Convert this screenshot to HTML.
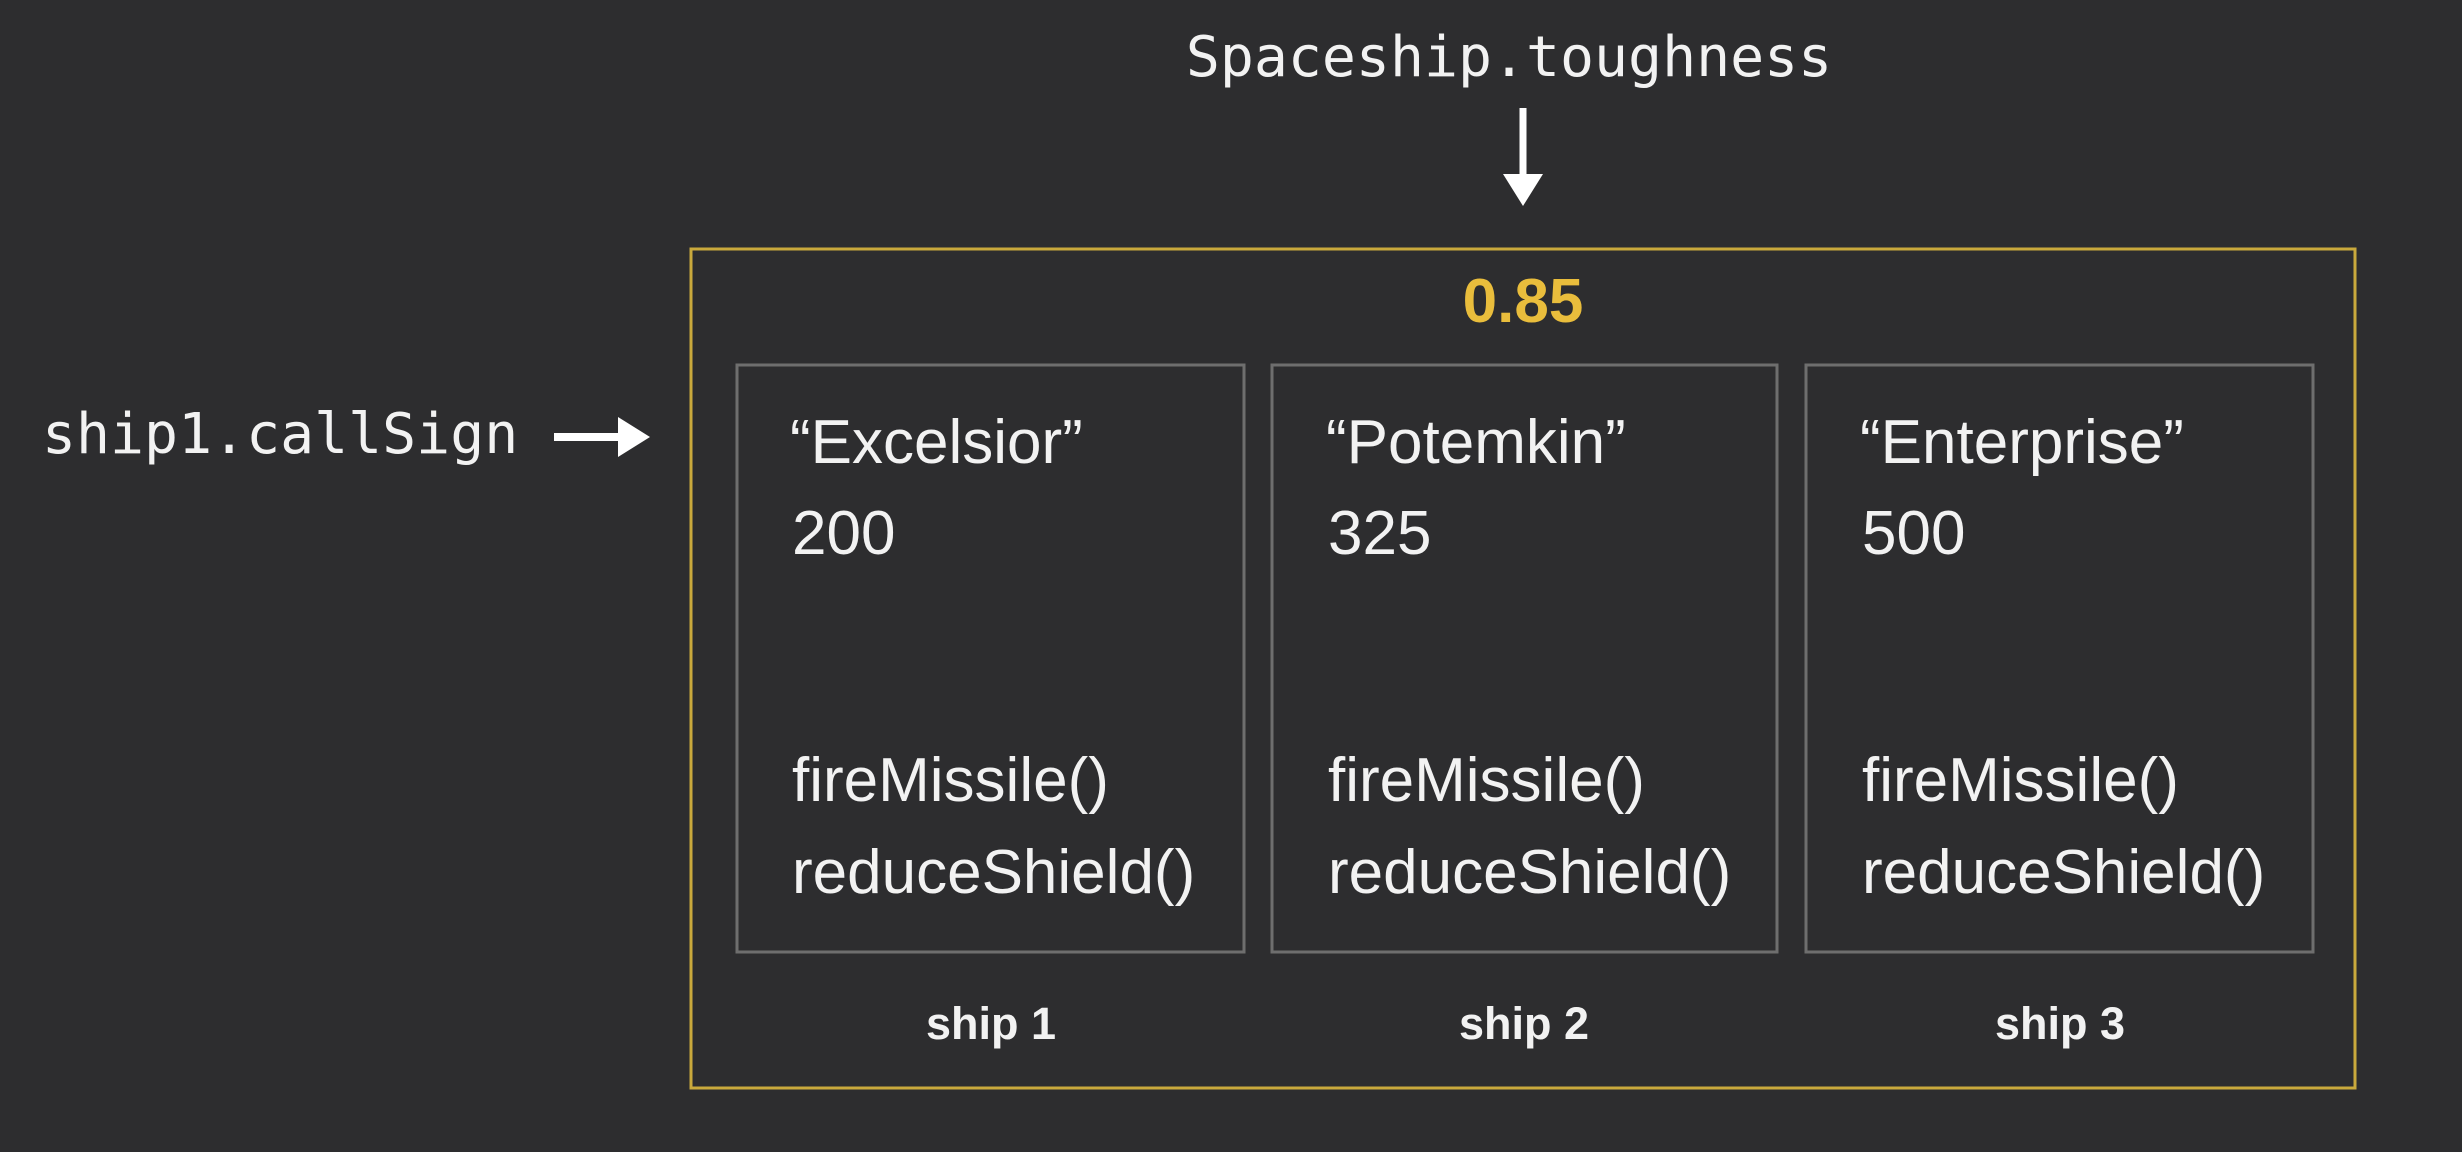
<!DOCTYPE html>
<html><head><meta charset="utf-8"><style>
html,body{margin:0;padding:0;background:#2d2d2f;}
svg{display:block;}
</style></head><body>
<svg width="2462" height="1152" viewBox="0 0 2462 1152" xmlns="http://www.w3.org/2000/svg">
<rect width="2462" height="1152" fill="#2d2d2f"/>
<text x="1509" y="76" text-anchor="middle" font-family="DejaVu Sans Mono, Liberation Mono, monospace" font-size="56.5" fill="#f2f2f2">Spaceship.toughness</text>
<line x1="1523" y1="108" x2="1523" y2="178" stroke="#fff" stroke-width="7"/>
<polygon points="1503,174 1543,174 1523,206" fill="#fff"/>
<text x="42" y="453" font-family="DejaVu Sans Mono, Liberation Mono, monospace" font-size="56.5" fill="#f2f2f2">ship1.callSign</text>
<line x1="554" y1="437" x2="622" y2="437" stroke="#fff" stroke-width="8"/>
<polygon points="618,417 618,457 650,437" fill="#fff"/>
<rect x="691" y="249" width="1664" height="839" fill="none" stroke="#c9a93c" stroke-width="3"/>
<text x="1523" y="322" text-anchor="middle" font-family="Liberation Sans, sans-serif" font-weight="bold" font-size="62" fill="#e9bd3c">0.85</text>
<g fill="none" stroke="#6e6e6e" stroke-width="3">
<rect x="737" y="365" width="507" height="587"/>
<rect x="1272" y="365" width="505" height="587"/>
<rect x="1806" y="365" width="507" height="587"/>
</g>
<g font-family="Liberation Sans, sans-serif" font-size="62" fill="#f2f2f2">
<text x="790" y="463">“Excelsior”</text><text x="792" y="554">200</text>
<text x="792" y="801">fireMissile()</text><text x="792" y="893">reduceShield()</text>
<text x="1326" y="463">“Potemkin”</text><text x="1328" y="554">325</text>
<text x="1328" y="801">fireMissile()</text><text x="1328" y="893">reduceShield()</text>
<text x="1860" y="463">“Enterprise”</text><text x="1862" y="554">500</text>
<text x="1862" y="801">fireMissile()</text><text x="1862" y="893">reduceShield()</text>
</g>
<g font-family="Liberation Sans, sans-serif" font-weight="bold" font-size="45" fill="#f2f2f2" text-anchor="middle">
<text x="991" y="1039">ship 1</text>
<text x="1524" y="1039">ship 2</text>
<text x="2060" y="1039">ship 3</text>
</g>
</svg>
</body></html>
